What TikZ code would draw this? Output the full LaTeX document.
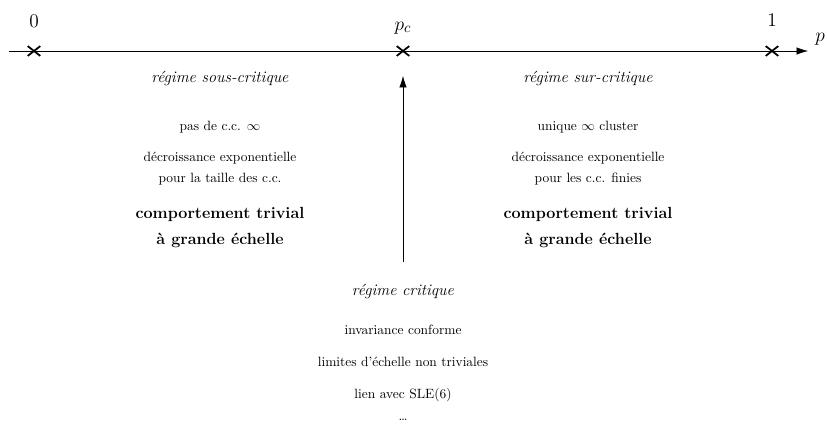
\documentclass[tikz,border=0pt]{standalone}
\usetikzlibrary{arrows.meta,shapes.misc}
\begin{document}
\begin{tikzpicture}[x=0.744pt,y=-0.744pt,
  crossmark/.style={cross out,draw,line width=1.3pt,minimum width=8pt,minimum height=6pt,inner sep=0pt},
  txt/.style={inner sep=0pt,anchor=base},
  big/.style={inner sep=0pt,anchor=base,font=\large},
  lab/.style={inner sep=0pt,anchor=base,font=\fontsize{15}{18}\selectfont},
  arr/.style={-{Latex[length=8.5pt,width=5.5pt]}}]
\useasboundingbox (0,0) rectangle (827,432);
\coordinate (start) at (9,51);
\coordinate (end) at (808,51);
\draw[arr] (start) -- (end);
\node[crossmark] (c0) at (34,51) {};
\node[crossmark] (cpc) at (403,51) {};
\node[crossmark] (c1) at (772,51) {};
\node[lab] (l0) at (34,27) {$0$};
\node[lab] (lpc) at (403,30) {$p_c$};
\node[lab] (l1) at (772,26) {$1$};
\node[lab] (lp) at (820,41) {$p$};
\coordinate (abot) at (403,262);
\coordinate (atop) at (403,76);
\draw[arr] (abot) -- (atop);
% left
\node[big] (s1) at (220,82) {\textit{régime sous-critique}};
\node[txt] (s2) at (220,130) {pas de c.c. $\infty$};
\node[txt] (s3) at (220,161) {décroissance exponentielle};
\node[txt] (s4) at (220,182) {pour la taille des c.c.};
\node[big] (s5) at (220,218) {\textbf{comportement trivial}};
\node[big] (s6) at (220,244) {\textbf{à grande échelle}};
% right
\node[big] (r1) at (588,82) {\textit{régime sur-critique}};
\node[txt] (r2) at (588,130) {unique $\infty$ cluster};
\node[txt] (r3) at (588,161) {décroissance exponentielle};
\node[txt] (r4) at (588,182) {pour les c.c. finies};
\node[big] (r5) at (588,218) {\textbf{comportement trivial}};
\node[big] (r6) at (588,244) {\textbf{à grande échelle}};
% center
\node[big] (m1) at (403,295) {\textit{régime critique}};
\node[txt] (m2) at (403,334) {invariance conforme};
\node[txt] (m3) at (403,366) {limites d'échelle non triviales};
\node[txt] (m4) at (403,398) {lien avec SLE(6)};
\node[txt] (m5) at (403,420) {\dots};
\end{tikzpicture}
\end{document}
